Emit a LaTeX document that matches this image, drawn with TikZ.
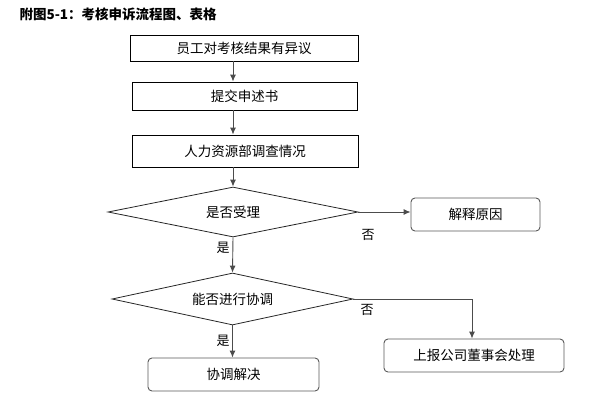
\documentclass[tikz,border=0pt]{standalone}
\usepackage{fontspec}
\setmainfont{Noto Sans CJK SC}
\usetikzlibrary{shapes.geometric,arrows.meta,positioning}

\begin{document}
\begin{tikzpicture}[
    x=1pt, y=-1pt,
    box/.style={rectangle, draw=black, line width=0.9pt, font=\fontsize{13.5}{15}\selectfont, text centered, inner sep=0pt},
    rbox/.style={box, draw=black!65, rounded corners=4pt},
    decision/.style={diamond, draw=black!85, line width=0.8pt, aspect=5, inner sep=0pt, font=\fontsize{13.5}{15}\selectfont},
    arrow/.style={-{Latex[length=7pt,width=6pt]}, draw=black!70, line width=0.9pt},
    lbl/.style={font=\fontsize{13}{14}\selectfont, inner sep=0pt}
]
\useasboundingbox (0,0) rectangle (590,416);

% Title
\node[anchor=west, font=\fontsize{13.5}{15}\selectfont\bfseries] (title) at (16,14) {附图5-1：考核申诉流程图、表格};

% Main flow
\node[box, minimum width=228pt, minimum height=26pt] (dissent) at (244,48) {员工对考核结果有异议};
\node[box, minimum width=225pt, minimum height=28pt] (submit) at (244.5,96) {提交申述书};
\node[box, minimum width=226pt, minimum height=32pt] (survey) at (245,151) {人力资源部调查情况};
\node[decision, minimum width=250pt, minimum height=50pt] (accept) at (233,212) {是否受理};
\node[rbox, minimum width=129pt, minimum height=33pt] (reason) at (475.5,214.5) {解释原因};
\node[decision, minimum width=241pt, minimum height=52pt] (mediate) at (232.5,299) {能否进行协调};
\node[rbox, minimum width=171pt, minimum height=33pt] (resolve) at (233.5,374.5) {协调解决};
\node[rbox, minimum width=180pt, minimum height=33pt] (board) at (474,355.5) {上报公司董事会处理};

% Arrows
\draw[arrow] (dissent.south -| accept) -- (submit.north -| accept);
\draw[arrow] (submit.south -| accept) -- (survey.north -| accept);
\draw[arrow] (survey.south -| accept) -- (accept.north);
\draw[arrow] (accept.east) -- (accept.east -| reason.west);
\draw[arrow] (accept.south) -- (mediate.north);
\draw[arrow] (mediate.south) -- (mediate.south |- resolve.north);
\draw[arrow] (mediate.east) -| (board.north -| 472,0);

% Labels
\node[lbl] (no1) at (368,235) {否};
\node[lbl] (yes1) at (223,248) {是};
\node[lbl] (no2) at (367,310) {否};
\node[lbl] (yes2) at (223,341) {是};
\end{tikzpicture}
\end{document}
